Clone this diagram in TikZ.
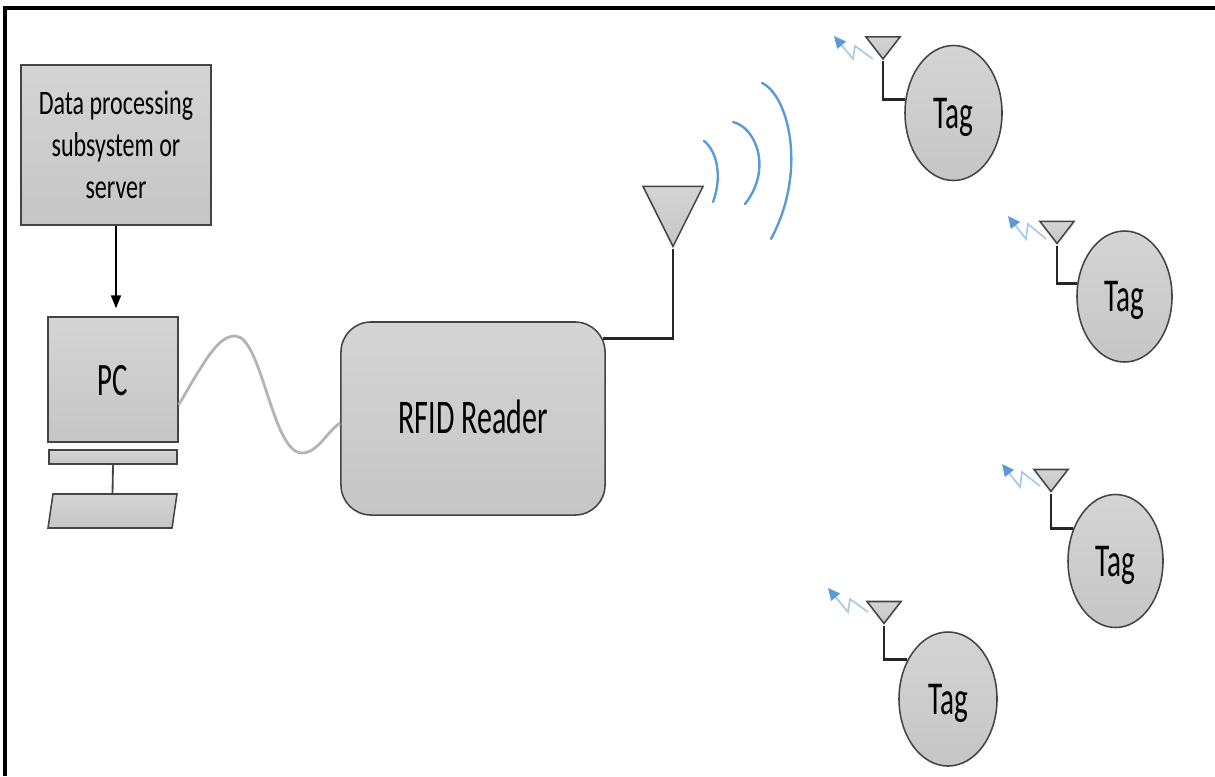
\documentclass[tikz,border=0pt]{standalone}
\usepackage{fontspec}
\newfontfamily\labelfont[FakeStretch=0.62]{Carlito}
\newfontfamily\serverfont[FakeStretch=0.7]{Carlito}
\definecolor{PanelLight}{HTML}{D4D4D4}
\definecolor{PanelDark}{HTML}{C6C6C6}
\definecolor{EdgeGray}{HTML}{444444}
\definecolor{CableGray}{HTML}{B4B4B4}
\definecolor{WaveBlue}{HTML}{5B9BD5}
\definecolor{WaveLight}{HTML}{A6CAEA}
\usetikzlibrary{shapes.geometric, arrows.meta, positioning}
\tikzset{
  % Box styles
  devicebox/.style={rectangle, draw=EdgeGray, line width=1.1pt, top color=PanelLight, bottom color=PanelDark, align=center, inner sep=0pt},
  tagnode/.style={ellipse, draw=EdgeGray, line width=1.1pt, top color=PanelLight, bottom color=PanelDark, inner sep=0pt, text height=0.75cm, text depth=0pt, font=\labelfont\fontsize{33.5}{36}\selectfont},
  bigantenna/.style={isosceles triangle, isosceles triangle stretches, shape border rotate=-90, draw=EdgeGray, line width=1.1pt, top color=PanelLight, bottom color=PanelDark, minimum width=1.5cm, minimum height=1.5cm, inner sep=0pt},
  tagantenna/.style={isosceles triangle, isosceles triangle stretches, shape border rotate=-90, draw=EdgeGray, line width=1.1pt, top color=PanelLight, bottom color=PanelDark, minimum width=0.85cm, minimum height=0.55cm, inner sep=0pt},
  % Line styles
  arrow/.style={-{Triangle[width=0.25cm, length=0.32cm]}, line width=1.1pt, black},
  feedline/.style={line width=2pt, black!85},
  cable/.style={line width=2pt, CableGray},
  wave/.style={line width=1.7pt, WaveBlue, line cap=round},
  tagsignal/.style={-{Triangle[width=0.28cm, length=0.3cm, color=WaveBlue]}, line width=1.2pt, WaveLight}
}
\begin{document}
\begin{tikzpicture}[x=0.025cm, y=-0.025cm]
  \useasboundingbox (0,0) rectangle (1215,776);

  % Outer frame
  \coordinate (framebl) at (5,776);
  \coordinate (framecorner) at (5,8);
  \coordinate (frametr) at (1215,8);
  \draw[line width=2.2pt, black] (framebl) -- (framecorner) -- (frametr);

  % Server and PC
  \node[devicebox, minimum width=4.75cm, minimum height=4cm, font=\serverfont\fontsize{24.4}{29.8}\selectfont] (server) at (116,145) {Data processing\\subsystem or\\server};
  \node[devicebox, minimum width=3.25cm, minimum height=3.125cm, text height=0.775cm, text depth=0pt, font=\labelfont\fontsize{33}{36}\selectfont] (pc) at (113,379.5) {PC};
  \node[devicebox, minimum width=3.2cm, minimum height=0.35cm] (stand) at (113,457) {};
  \coordinate (keyboardtop) at (112.5,494);
  \draw[devicebox] (53,494) -- (177,494) -- (172,528) -- (48,528) -- cycle;
  \draw[arrow, shorten >=0.2cm] (server.south) -- (server.south |- pc.north);
  \draw[line width=1.3pt, EdgeGray] (stand.south) -- (keyboardtop);

  % Reader and its antenna
  \node[devicebox, rounded corners=0.75cm, minimum width=6.6cm, minimum height=4.825cm, text height=0.725cm, text depth=0pt, font=\labelfont\fontsize{34.4}{38}\selectfont] (reader) at (473,418.5) {RFID Reader};
  \node[bigantenna, anchor=apex] (readerant) at (673,248.5) {};
  \coordinate (cablepeak) at (235,336);
  \coordinate (cabletrough) at (302,453);
  \draw[cable] (pc.-21) .. controls (205,360) and (218,336) .. (cablepeak) .. controls (262,336) and (272,453) .. (cabletrough) .. controls (318,453) and (328,430) .. (reader.182);
  \draw[feedline, shorten >=-0.08cm] (readerant.apex) |- (reader.31.4);

  % Radio waves
  \draw[wave] (704,141) .. controls (716,150) and (723,175) .. (713,202);
  \draw[wave] (733,122) .. controls (757,128) and (772,170) .. (745,204);
  \draw[wave] (762,83) .. controls (788,95) and (808,170) .. (771,239);

  % Tags
  \node[tagnode, minimum width=2.425cm, minimum height=3.375cm] (tagA) at (953.5,113) {Tag};
  \node[tagnode, minimum width=2.375cm, minimum height=3.275cm] (tagB) at (1124.5,296.5) {Tag};
  \node[tagnode, minimum width=2.375cm, minimum height=3.325cm] (tagC) at (1115.5,561) {Tag};
  \node[tagnode, minimum width=2.45cm, minimum height=3.35cm] (tagD) at (948,699) {Tag};

  \node[tagantenna, anchor=apex] (antA) at (883,61) {};
  \node[tagantenna, anchor=apex] (antB) at (1057,245.5) {};
  \node[tagantenna, anchor=apex] (antC) at (1051,493.5) {};
  \node[tagantenna, anchor=apex] (antD) at (884,625.5) {};

  \draw[feedline] (antA.apex) |- (tagA.164);
  \draw[feedline] (antB.apex) |- (tagB.165);
  \draw[feedline] (antC.apex) |- (tagC.142);
  \draw[feedline] (antD.apex) |- (tagD.136);

  % Tag replies
  \draw[tagsignal] (antA.apex) ++(-10,-2) -- ++(-18,-13) -- ++(-2,13) -- ++(-19,-23);
  \draw[tagsignal] (antB.apex) ++(-11,-6.5) -- ++(-18,-15) -- ++(-2,15) -- ++(-18,-23);
  \draw[tagsignal] (antC.apex) ++(-11,-7.5) -- ++(-18,-14) -- ++(-2,15) -- ++(-18,-23);
  \draw[tagsignal] (antD.apex) ++(-16,-13.5) -- ++(-18,-13) -- ++(-2,13) -- ++(-20,-24);
\end{tikzpicture}
\end{document}
